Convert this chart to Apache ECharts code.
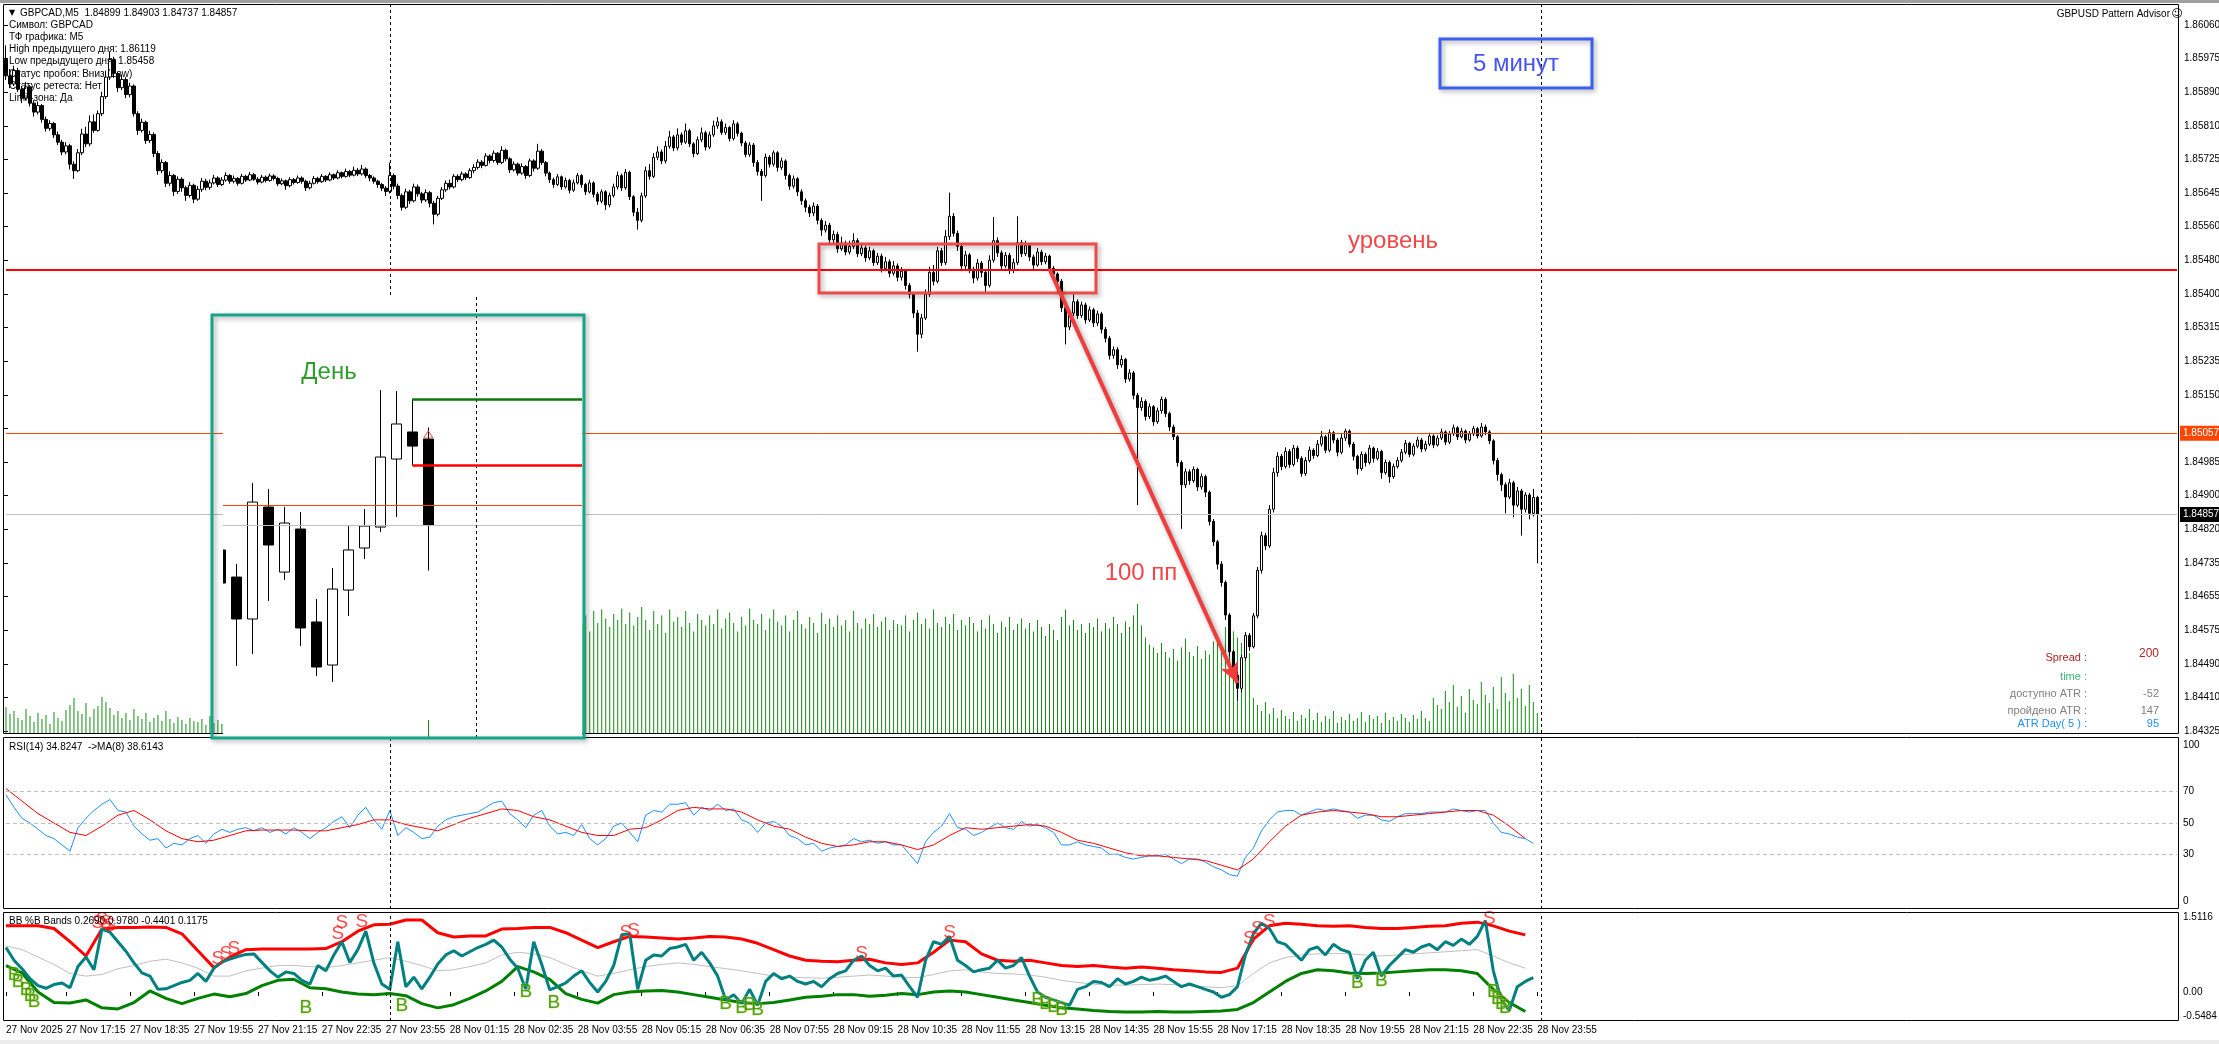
<!DOCTYPE html>
<html><head><meta charset="utf-8">
<script src="https://cdn.jsdelivr.net/npm/echarts@6/dist/echarts.min.js"></script>
<style>html,body{margin:0;padding:0;background:#fff;}#c{width:2219px;height:1044px;}</style>
</head><body><div id="c"></div>
<script>
// ---------- DATA (prices stored as points above 1.84000) ----------
const PRICE_BASE = 1.84;
const openPts = [1975,1935,1915,1948,1902,1880,1908,1868,1846,1862,
1828,1806,1818,1790,1772,1748,1763,1718,1702,1746,
1792,1768,1822,1801,1842,1884,1932,1975,1941,1906,
1926,1889,1910,1842,1801,1821,1776,1791,1744,1702,
1722,1671,1690,1651,1681,1660,1641,1666,1632,1656,
1676,1661,1672,1684,1668,1679,1690,1676,1683,1671,
1688,1679,1692,1681,1674,1686,1678,1689,1683,1670,
1677,1665,1680,1673,1684,1676,1660,1671,1683,1675,
1688,1679,1692,1684,1697,1688,1700,1691,1703,1694,
1706,1690,1684,1676,1668,1659,1651,1690,1664,1641,
1612,1650,1628,1662,1645,1630,1648,1622,1595,1634,
1655,1671,1662,1688,1680,1694,1685,1702,1710,1723,
1715,1738,1727,1745,1722,1752,1731,1704,1718,1696,
1712,1690,1726,1708,1750,1722,1696,1680,1668,1687,
1662,1678,1654,1672,1690,1668,1650,1672,1644,1627,
1650,1618,1641,1662,1690,1660,1698,1638,1600,1580,
1640,1702,1688,1735,1748,1726,1762,1785,1758,1790,
1772,1800,1768,1744,1778,1795,1760,1790,1812,1822,
1796,1808,1781,1817,1794,1770,1742,1765,1722,1700,
1690,1735,1718,1746,1710,1726,1690,1664,1682,1650,
1628,1612,1598,1615,1580,1556,1568,1532,1545,1510,
1524,1502,1516,1530,1498,1512,1488,1505,1476,1492,
1462,1478,1450,1468,1440,1455,1420,1398,1352,1300,
1340,1398,1452,1430,1505,1476,1540,1590,1548,1516,
1468,1495,1460,1438,1475,1452,1420,1482,1530,1500,
1468,1494,1458,1476,1525,1498,1518,1490,1470,1502,
1478,1492,1462,1448,1430,1365,1318,1352,1380,1346,
1372,1335,1360,1328,1350,1312,1290,1248,1262,1225,
1238,1190,1205,1150,1120,1135,1098,1122,1085,1112,
1140,1105,1072,1048,985,930,962,940,968,925,
950,912,840,790,735,690,610,520,462,430,
505,560,532,608,720,805,780,870,960,1000,
975,1012,980,1020,995,958,990,1015,1002,1030,
1048,1015,1058,1040,1010,1045,1062,1030,1000,970,
1005,985,1020,995,1012,960,985,950,975,990,
1010,1032,1005,1025,1040,1018,1030,1050,1028,1045,
1060,1035,1055,1070,1048,1062,1040,1055,1068,1050,
1072,1060,1038,990,955,930,900,935,880,915,
870,905,860,899];
const closePts = [1935,1915,1948,1902,1880,1908,1868,1846,1862,1828,
1806,1818,1790,1772,1748,1763,1718,1702,1746,1792,
1768,1822,1801,1842,1884,1932,1975,1941,1906,1926,
1889,1910,1842,1801,1821,1776,1791,1744,1702,1722,
1671,1690,1651,1681,1660,1641,1666,1632,1656,1676,
1661,1672,1684,1668,1679,1690,1676,1683,1671,1688,
1679,1692,1681,1674,1686,1678,1689,1683,1670,1677,
1665,1680,1673,1684,1676,1660,1671,1683,1675,1688,
1679,1692,1684,1697,1688,1700,1691,1703,1694,1706,
1690,1684,1676,1668,1659,1651,1690,1664,1641,1612,
1650,1628,1662,1645,1630,1648,1622,1595,1634,1655,
1671,1662,1688,1680,1694,1685,1702,1710,1723,1715,
1738,1727,1745,1722,1752,1731,1704,1718,1696,1712,
1690,1726,1708,1750,1722,1696,1680,1668,1687,1662,
1678,1654,1672,1690,1668,1650,1672,1644,1627,1650,
1618,1641,1662,1690,1660,1698,1638,1600,1580,1640,
1702,1688,1735,1748,1726,1762,1785,1758,1790,1772,
1800,1768,1744,1778,1795,1760,1790,1812,1822,1796,
1808,1781,1817,1794,1770,1742,1765,1722,1700,1690,
1735,1718,1746,1710,1726,1690,1664,1682,1650,1628,
1612,1598,1615,1580,1556,1568,1532,1545,1510,1524,
1502,1516,1530,1498,1512,1488,1505,1476,1492,1462,
1478,1450,1468,1440,1455,1420,1398,1352,1300,1340,
1398,1452,1430,1505,1476,1540,1590,1548,1516,1468,
1495,1460,1438,1475,1452,1420,1482,1530,1500,1468,
1494,1458,1476,1525,1498,1518,1490,1470,1502,1478,
1492,1462,1448,1430,1365,1318,1352,1380,1346,1372,
1335,1360,1328,1350,1312,1290,1248,1262,1225,1238,
1190,1205,1150,1120,1135,1098,1122,1085,1112,1140,
1105,1072,1048,985,930,962,940,968,925,950,
912,840,790,735,690,610,520,462,430,505,
560,532,608,720,805,780,870,960,1000,975,
1012,980,1020,995,958,990,1015,1002,1030,1048,
1015,1058,1040,1010,1045,1062,1030,1000,970,1005,
985,1020,995,1012,960,985,950,975,990,1010,
1032,1005,1025,1040,1018,1030,1050,1028,1045,1060,
1035,1055,1070,1048,1062,1040,1055,1068,1050,1072,
1060,1038,990,955,930,900,935,880,915,870,
905,860,899,857];
const highPts = [2010,1952,1960,1955,1910,1920,1912,1875,1872,1866,
1835,1826,1822,1798,1778,1772,1768,1725,1755,1805,
1810,1838,1840,1850,1896,1948,1995,1982,1945,1938,
1932,1918,1914,1848,1830,1825,1800,1796,1750,1730,
1726,1700,1694,1688,1686,1665,1674,1670,1664,1684,
1682,1680,1692,1688,1686,1698,1694,1690,1686,1694,
1692,1699,1696,1686,1692,1690,1695,1693,1687,1683,
1680,1686,1684,1690,1688,1680,1677,1689,1687,1694,
1691,1698,1695,1703,1700,1707,1704,1712,1708,1716,
1710,1694,1688,1680,1672,1664,1722,1695,1670,1646,
1658,1655,1670,1668,1650,1656,1652,1628,1640,1662,
1678,1680,1694,1693,1700,1698,1708,1718,1730,1728,
1745,1742,1752,1748,1762,1756,1735,1725,1722,1720,
1716,1732,1730,1768,1755,1726,1700,1685,1694,1690,
1685,1682,1680,1696,1694,1672,1680,1676,1650,1656,
1654,1648,1670,1700,1695,1706,1702,1642,1610,1648,
1712,1718,1745,1762,1754,1775,1800,1790,1806,1796,
1818,1805,1772,1786,1808,1800,1798,1825,1834,1828,
1818,1812,1826,1822,1798,1775,1772,1770,1728,1706,
1744,1740,1752,1750,1734,1730,1695,1690,1686,1656,
1634,1618,1624,1620,1585,1578,1574,1555,1552,1540,
1530,1530,1548,1536,1522,1518,1515,1510,1500,1498,
1490,1484,1480,1474,1465,1460,1426,1404,1360,1350,
1410,1466,1470,1515,1512,1556,1648,1598,1555,1522,
1505,1500,1466,1485,1480,1458,1494,1588,1538,1506,
1502,1500,1486,1590,1532,1530,1524,1496,1512,1508,
1500,1496,1468,1452,1436,1372,1360,1402,1386,1380,
1378,1368,1365,1358,1355,1318,1296,1270,1268,1248,
1242,1214,1210,1156,1145,1140,1130,1126,1120,1147,
1145,1110,1078,1052,990,970,968,975,972,958,
955,916,846,795,742,695,615,525,470,512,
568,566,615,728,815,812,880,972,1010,1006,
1022,1018,1028,1026,1000,998,1024,1020,1040,1062,
1052,1066,1062,1045,1055,1068,1066,1035,1004,1012,
1010,1028,1024,1020,1016,992,990,982,998,1018,
1040,1036,1032,1048,1045,1038,1058,1054,1052,1068,
1064,1062,1078,1074,1070,1066,1062,1075,1072,1082,
1078,1064,1042,996,960,936,945,940,925,920,
912,910,920,903];
const lowPts = [1925,1905,1910,1895,1868,1875,1860,1835,1840,1820,
1798,1800,1782,1765,1740,1742,1705,1682,1698,1740,
1760,1762,1795,1798,1836,1878,1925,1930,1895,1900,
1880,1882,1835,1790,1796,1768,1770,1735,1692,1696,
1662,1664,1640,1645,1650,1628,1636,1622,1628,1650,
1654,1655,1668,1662,1664,1675,1670,1671,1665,1668,
1674,1676,1677,1668,1671,1673,1675,1678,1664,1666,
1655,1661,1668,1670,1670,1652,1656,1668,1670,1672,
1674,1676,1679,1681,1683,1685,1686,1688,1689,1690,
1684,1676,1670,1660,1652,1640,1646,1656,1632,1604,
1608,1620,1624,1638,1622,1625,1612,1570,1590,1630,
1650,1656,1658,1674,1676,1679,1682,1696,1705,1708,
1712,1720,1722,1716,1718,1725,1696,1700,1690,1692,
1682,1686,1700,1704,1716,1688,1672,1660,1664,1655,
1658,1646,1650,1668,1660,1642,1646,1636,1618,1622,
1605,1612,1636,1656,1652,1655,1630,1590,1557,1575,
1635,1680,1684,1728,1718,1720,1756,1750,1752,1765,
1768,1760,1735,1740,1772,1752,1755,1785,1805,1790,
1790,1774,1776,1786,1762,1735,1736,1712,1690,1628,
1685,1710,1712,1700,1704,1680,1655,1658,1640,1618,
1600,1588,1590,1570,1542,1550,1524,1520,1500,1505,
1494,1496,1510,1490,1492,1478,1482,1468,1470,1452,
1455,1440,1444,1430,1432,1410,1388,1340,1257,1290,
1335,1392,1420,1425,1468,1470,1532,1540,1505,1455,
1460,1450,1425,1432,1440,1400,1415,1476,1490,1460,
1462,1448,1450,1470,1490,1492,1480,1460,1466,1470,
1472,1455,1440,1400,1355,1275,1310,1345,1338,1340,
1326,1330,1318,1320,1302,1280,1238,1240,1215,1218,
1180,1184,1140,880,1112,1088,1092,1075,1080,1105,
1096,1062,1040,975,822,922,930,935,915,918,
900,830,780,722,680,598,508,450,400,420,
498,522,528,602,712,770,775,862,950,966,
970,972,975,986,950,952,985,994,998,1024,
1008,1010,1032,1000,1005,1038,1022,990,955,965,
975,980,985,990,945,955,935,945,970,985,
1005,998,1000,1020,1010,1012,1025,1020,1024,1040,
1028,1030,1050,1040,1044,1032,1036,1050,1044,1046,
1052,1030,980,940,915,860,895,850,875,805,
862,845,852,737];
const volumes = [52,38,44,30,26,48,34,22,40,28,36,18,42,30,24,46,
56,70,44,38,60,32,48,54,72,62,50,36,44,30,40,26,
48,34,28,40,22,30,36,24,44,28,20,32,26,18,30,24,
22,28,16,34,20,26,18,30,24,20,28,22,18,26,20,30,
24,18,28,20,22,30,18,26,24,20,28,22,30,24,26,32,
28,34,26,30,36,28,32,38,30,36,40,34,42,38,44,40,
100,81,90,107,87,99,116,104,96,128,110,133,122,102,131,119,
139,128,151,133,160,145,136,171,157,177,162,183,168,189,174,194,
180,203,186,197,212,191,218,200,209,226,206,218,232,212,223,215,
218,235,203,244,220,247,229,212,238,226,249,218,241,215,232,252,
226,206,244,218,235,200,247,223,232,212,244,220,203,238,226,215,
235,218,247,209,229,241,220,203,232,215,249,226,218,238,206,229,
247,223,215,235,203,226,244,218,209,232,220,200,241,218,229,212,
235,215,226,203,244,220,209,229,218,238,212,223,232,206,226,218,
215,235,203,226,241,218,229,209,247,220,212,232,218,238,206,226,
215,232,220,203,226,209,235,218,200,223,212,232,206,218,229,209,
220,203,226,212,194,218,206,186,232,247,215,226,206,218,200,220,
212,229,203,220,209,232,218,200,223,212,235,258,215,191,177,171,
160,180,162,151,168,145,171,189,162,154,174,148,165,157,183,194,
174,212,186,203,191,180,168,160,70,56,44,62,38,50,30,46,
34,28,42,24,36,30,48,26,40,22,34,28,44,20,32,26,
38,24,30,42,22,36,28,34,20,40,26,32,24,38,30,22,
36,28,44,30,24,70,56,48,84,62,96,52,74,40,88,66,
58,102,76,60,92,48,112,80,64,118,70,88,54,96,62,40];

// RSI(14) sampled every 2 bars, its MA(8) every 4 bars
const RSI_STEP = 2, MA_STEP = 4;
const rsiValues = [68,60,53,50,46,42,40,36,32,47,53,58,62,65,58,57,
48,43,39,40,34,37,36,40,42,37,43,46,44,46,47,45,
47,44,46,43,47,44,40,44,47,51,54,47,55,60,52,46,
58,42,47,44,40,41,48,52,54,55,56,57,60,63,64,56,
52,47,55,58,48,43,44,42,49,40,36,40,48,50,44,38,
55,58,57,62,62,63,55,60,58,62,58,59,52,50,44,50,
51,48,42,40,36,37,32,34,35,36,40,38,39,37,38,36,
36,30,24,38,44,48,56,47,46,42,44,47,50,47,46,51,
48,49,47,44,36,36,38,36,35,34,30,30,28,27,28,29,
29,30,27,24,27,27,25,22,20,17,16,28,34,45,52,57,
58,58,55,57,59,58,59,58,57,53,55,55,52,51,54,56,
56,56,57,57,57,59,58,57,58,58,50,44,43,41,40,37];
const rsiMA = [72,64,56,50,44,42,48,55,58,52,45,40,38,39,42,45,
45.5,45.5,45.5,45,45,47,49,52,52,49,47,45,49,53,56,59,
58,54,52,48,44,42,42,46,47,52,58,60,59,59,57,52,
48,46,41,37,35,36,38,38,36,33,36,42,47,46,47,48,
49,48,44,39,37,34,31,29,29,28,27,26,23,20,27,38,
48,55,57,58,57,56,54,54,55,56,57,58,58,55,48,40];
const rsiLevels = [70, 50, 30];
const rsiTicks = [0, 30, 50, 70, 100];

// BB %B Bands: bands sampled every 4 bars, %B every 2 bars
const BAND_STEP = 4, PB_STEP = 2;
const bbUpper = [1.25,1.25,1.25,1.2,0.95,0.68,1.19,1.22,1.22,1.23,1.22,1.1,0.78,0.46,0.66,0.8,
0.81,0.81,0.81,0.81,0.82,0.95,1.15,1.27,1.28,1.36,1.36,1.12,1.04,1.06,1.06,1.19,
1.2,1.22,1.22,1.12,0.98,0.84,0.95,1.05,1.04,1.02,1.0,1.02,1.05,1.04,1.0,0.92,
0.8,0.68,0.6,0.58,0.57,0.6,0.62,0.55,0.52,0.55,0.75,0.98,0.95,0.72,0.6,0.58,
0.6,0.55,0.5,0.48,0.5,0.47,0.45,0.47,0.45,0.42,0.4,0.38,0.37,0.45,1.0,1.25,
1.3,1.28,1.25,1.24,1.25,1.22,1.2,1.2,1.22,1.24,1.25,1.3,1.32,1.25,1.15,1.08];
const bbLower = [0.5,0.36,0.0,-0.2,-0.21,-0.15,-0.3,-0.32,-0.2,0.02,-0.12,-0.22,-0.12,-0.04,-0.09,-0.03,
0.12,0.22,0.24,0.08,0.06,0.0,-0.04,-0.05,-0.03,-0.07,-0.22,-0.3,-0.24,-0.12,0.02,0.2,
0.48,0.38,0.24,-0.03,-0.14,-0.21,-0.05,0.0,0.02,0.03,0.0,-0.05,-0.1,-0.15,-0.2,-0.22,
-0.2,-0.15,-0.1,-0.08,-0.05,-0.05,-0.08,-0.06,-0.03,-0.05,0.0,0.02,0.0,-0.05,-0.1,-0.15,
-0.2,-0.25,-0.3,-0.32,-0.35,-0.37,-0.38,-0.38,-0.37,-0.38,-0.38,-0.37,-0.36,-0.33,-0.2,0.0,
0.2,0.35,0.42,0.4,0.36,0.35,0.36,0.38,0.4,0.42,0.42,0.4,0.35,0.05,-0.2,-0.37];
const bbMiddle = [0.87,0.8,0.66,0.52,0.35,0.3,0.33,0.44,0.5,0.58,0.62,0.55,0.45,0.3,0.3,0.4,
0.45,0.5,0.5,0.48,0.46,0.5,0.55,0.6,0.65,0.58,0.5,0.4,0.42,0.48,0.55,0.7,
0.75,0.72,0.65,0.52,0.4,0.3,0.35,0.42,0.48,0.52,0.55,0.52,0.48,0.44,0.4,0.35,
0.3,0.28,0.27,0.26,0.28,0.3,0.32,0.3,0.28,0.27,0.33,0.4,0.42,0.38,0.35,0.34,
0.32,0.28,0.22,0.18,0.15,0.13,0.13,0.14,0.15,0.14,0.12,0.1,0.08,0.12,0.35,0.55,
0.65,0.7,0.72,0.73,0.72,0.7,0.68,0.7,0.72,0.74,0.76,0.78,0.8,0.68,0.55,0.45];
const pctB = [0.84,0.60,0.44,0.25,0.12,0.07,0.14,0.17,0.08,0.48,0.66,0.42,1.19,1.13,0.95,0.77,
0.55,0.36,0.30,0.05,0.06,0.12,0.18,0.22,0.35,0.20,0.45,0.57,0.62,0.67,0.71,0.72,
0.56,0.40,0.28,0.38,0.35,0.22,0.15,0.50,0.40,0.70,0.95,0.56,0.80,1.15,0.55,0.15,
0.05,0.95,0.10,0.28,0.06,0.28,0.53,0.70,0.78,0.68,0.76,0.84,0.90,0.98,0.85,0.62,
0.45,0.05,0.95,0.52,0.04,0.10,0.17,0.30,0.40,0.18,0.00,0.20,0.50,1.08,1.10,0.05,
0.6,0.7,0.68,0.82,0.85,0.9,0.6,0.75,0.55,0.30,-0.15,-0.05,-0.22,0.05,-0.25,0.2,
0.35,0.25,0.3,0.2,0.15,0.2,0.1,0.25,0.35,0.4,0.6,0.68,0.5,0.4,0.45,0.3,
0.32,0.1,-0.1,0.6,0.95,0.9,1.05,0.6,0.5,0.38,0.42,0.45,0.6,0.45,0.5,0.65,
0.3,0.0,-0.1,-0.15,-0.2,-0.25,0.05,0.1,0.2,0.18,0.1,0.25,0.15,0.2,0.28,0.22,
0.25,0.3,0.2,0.1,0.15,0.1,0.05,0.0,-0.1,-0.05,0.1,0.7,1.1,1.3,1.2,0.95,
0.9,0.75,0.6,0.8,0.85,0.7,0.9,0.8,0.75,0.25,0.6,0.75,0.3,0.5,0.65,0.8,
0.75,0.85,0.9,0.8,0.95,0.88,1.0,0.9,1.05,1.35,0.4,-0.15,-0.35,0.1,0.2,0.27];
const sellBars = [23,24,25,26,53,55,57,83,84,89,155,157,214,236,311,313,316,371];
const sellVals = [1.3,1.36,1.3,1.25,0.62,0.72,0.82,1.1,1.3,1.32,1.12,1.15,0.72,1.12,1.0,1.2,1.32,1.38];
const buyBars = [2,3,5,6,7,75,99,130,137,180,184,186,188,258,260,262,264,338,344,372,373,374,375];
const buyVals = [0.33,0.2,0.05,-0.08,-0.18,-0.3,-0.26,0.0,-0.2,-0.22,-0.3,-0.25,-0.33,-0.15,-0.22,-0.28,-0.33,0.18,0.22,0.0,-0.12,-0.22,-0.3];
const bbTickVals = [-0.5484, 0, 1.5116];
const bbTickText = ['-0.5484', '0.00', '1.5116'];

// Daily inset ("День")
const dayOpen  = [1.84607,1.84336,1.83916,1.85037,1.84386,1.84817,1.83886,1.83455,1.84206,1.84627,1.84837,1.85518,1.85789,1.85718];
const dayClose = [1.84276,1.83916,1.85087,1.84657,1.84877,1.83826,1.83435,1.84216,1.84607,1.84847,1.85538,1.85869,1.85648,1.84857];
const dayLow   = [1.84276,1.83445,1.83565,1.84096,1.84306,1.83645,1.83345,1.83285,1.83946,1.84517,1.84787,1.84937,1.85458,1.84400];
const dayHigh  = [1.84607,1.84467,1.85278,1.85218,1.85037,1.84987,1.84116,1.84426,1.84847,1.85017,1.86209,1.86199,1.86119,1.85834];

const prevDayHigh = 1.86119, prevDayLow = 1.85458;
const orangeLine = 1.85057, bidLine = 1.84857;

// Axis tick labels
const priceTicks = ['1.84325','1.84410','1.84490','1.84575','1.84655','1.84735','1.84820','1.84900','1.84985','',
'1.85150','1.85235','1.85315','1.85400','1.85480','1.85560','1.85645','1.85725','1.85810','1.85890','1.85975','1.86060'];
const timeTickBars = [0,15,31,47,63,79,95,111,127,143,159,175,191,207,223,239,255,271,287,303,319,335,351,367,383];
const timeLabels = ['27 Nov 2025','27 Nov 17:15','27 Nov 18:35','27 Nov 19:55','27 Nov 21:15','27 Nov 22:35','27 Nov 23:55',
'28 Nov 01:15','28 Nov 02:35','28 Nov 03:55','28 Nov 05:15','28 Nov 06:35','28 Nov 07:55','28 Nov 09:15','28 Nov 10:35',
'28 Nov 11:55','28 Nov 13:15','28 Nov 14:35','28 Nov 15:55','28 Nov 17:15','28 Nov 18:35','28 Nov 19:55','28 Nov 21:15',
'28 Nov 22:35','28 Nov 23:55'];
const daySeparators = [96, 384];

const infoLines = ['Символ: GBPCAD','ТФ графика: M5','High предыдущего дня: 1.86119','Low предыдущего дня: 1.85458',
'Статус пробоя: Вниз (Low)','Статус ретеста: Нет','Limit-зона: Да'];
const panelLabels = ['Spread :','time :','доступно ATR :','пройдено ATR :','ATR Day( 5 ) :'];
const panelValues = ['200','','-52','147','95'];

// ---------- BUILD ----------
const FONT = 'Liberation Sans';
const N_CAT = 544;
const LAST_CAT = N_CAT - 1;
const cats = Array.from({length: N_CAT}, (_, i) => String(i));
const px = v => +(PRICE_BASE + v / 1e5).toFixed(5);
const candleData = closePts.map((c, i) => [px(openPts[i]), px(c), px(lowPts[i]), px(highPts[i])]);
const dayData = dayOpen.map((o, k) => [k, o, dayClose[k], dayLow[k], dayHigh[k]]);
const stepPairs = (arr, step) => arr.map((v, k) => [k * step, v]);
const isTimeTick = i => timeTickBars.indexOf(i) >= 0;
const sepLines = daySeparators.map(b => ({xAxis: b, lineStyle: {color: '#000', width: 1, type: [3, 3]}}));
const hLine = (v, x0, x1, style, label) => [Object.assign({coord: [x0, v], lineStyle: style}, label ? {label} : {}), {coord: [x1, v]}];
const tag = (v, bg) => ({show: true, position: 'end', distance: 3, formatter: v.toFixed(5), backgroundColor: bg,
  color: '#fff', padding: [3, 3, 2, 3], fontSize: 10, fontFamily: FONT});
const INSET_X0 = 0.169, INSET_X1 = 22.606;

const panelColors = ['#b22222','#3cb371','#808080','#808080','#1e90ff'];
const panelY = [658, 677, 694, 711, 724];
const valueY = [654, 677, 694, 711, 724];

const shadow = {shadowBlur: 5, shadowColor: 'rgba(0,0,0,0.35)', shadowOffsetX: 2, shadowOffsetY: 2};
const tshadow = {shadowBlur: 4, shadowColor: 'rgba(0,0,0,0.3)', shadowOffsetX: 2, shadowOffsetY: 2};
const txt = (text, x, y, size, fill, align, extra, family) => ({
  type: 'text', z: 30, silent: true,
  style: Object.assign({text, x, y, font: size + 'px "' + (family || FONT) + '"', fill, align: align || 'left', verticalAlign: 'middle'}, extra || {})
});

const graphics = [
  {type: 'rect', z: 15, silent: true, shape: {x: 0, y: 0, width: 2219, height: 3}, style: {fill: '#a0a0a0'}},
  {type: 'rect', z: 15, silent: true, shape: {x: 0, y: 1040, width: 2219, height: 4}, style: {fill: '#ececec'}},
  {type: 'rect', z: 15, silent: true, shape: {x: 3.5, y: 4.5, width: 2175, height: 729}, style: {fill: 'none', stroke: '#000', lineWidth: 1}},
  {type: 'rect', z: 15, silent: true, shape: {x: 3.5, y: 737.5, width: 2175, height: 171}, style: {fill: 'none', stroke: '#000', lineWidth: 1}},
  {type: 'rect', z: 15, silent: true, shape: {x: 3.5, y: 912.5, width: 2175, height: 108}, style: {fill: 'none', stroke: '#000', lineWidth: 1}},
  // inset background, edge mask (clips the partial first daily candle) and frame
  {type: 'rect', z: 20, silent: true, shape: {x: 223, y: 297, width: 359, height: 441}, style: {fill: '#fff'}},
  {type: 'rect', z: 28, silent: true, shape: {x: 214, y: 540, width: 9, height: 50}, style: {fill: '#fff'}},
  {type: 'rect', z: 30, silent: true, shape: {x: 212, y: 315, width: 372, height: 423},
    style: Object.assign({fill: 'none', stroke: '#17a589', lineWidth: 3}, shadow)},
  // red box + blue box
  {type: 'rect', z: 30, silent: true, shape: {x: 819, y: 244, width: 277, height: 49},
    style: Object.assign({fill: 'none', stroke: '#ef4a4a', lineWidth: 3}, shadow)},
  {type: 'rect', z: 30, silent: true, shape: {x: 1440, y: 39, width: 152, height: 49},
    style: Object.assign({fill: 'none', stroke: '#3d5ff0', lineWidth: 3}, shadow)},
  txt('уровень', 1393, 241, 24, '#f04848', 'center', tshadow),
  txt('100 пп', 1141, 573, 24, '#f04848', 'center', tshadow),
  txt('5 минут', 1516, 64, 24, '#4456ee', 'center', tshadow),
  Object.assign(txt('День', 329, 372, 24, '#2e9d2e', 'center', tshadow), {z: 31}),
  // header texts
  txt('▼', 9, 13, 8, '#000', 'left', null, 'DejaVu Sans'),
  txt('GBPCAD,M5  1.84899 1.84903 1.84737 1.84857', 20, 13, 10, '#000'),
  txt('GBPUSD Pattern Advisor', 2170, 14, 10, '#000', 'right'),
  txt('☺', 2177, 14, 11, '#000', 'center', null, 'DejaVu Sans'),
  txt('RSI(14) 34.8247  ->MA(8) 38.6143', 9, 747, 10, '#000'),
  txt('BB %B Bands 0.2690 0.9780 -0.4401 0.1175', 9, 921, 10, '#000')
];
infoLines.forEach((t, k) => graphics.push(txt(t, 9, 25 + k * 12.2, 10, '#000')));
panelLabels.forEach((t, k) => graphics.push(txt(t, 2087, panelY[k], 11, panelColors[k], 'right')));
panelValues.forEach((t, k) => { if (t) graphics.push(txt(t, 2159, valueY[k], k === 0 ? 12 : 11, panelColors[k], 'right')); });

const axisFont = {fontFamily: FONT, fontSize: 10, color: '#000'};
const noGridBounds = {containLabel: false, outerBoundsMode: 'none'};

const option = {
  animation: false,
  backgroundColor: '#ffffff',
  textStyle: {fontFamily: FONT},
  grid: [
    Object.assign({left: 4, top: 4, width: 2175, height: 729}, noGridBounds),
    Object.assign({left: 4, top: 25, width: 2175, height: 706}, noGridBounds),
    Object.assign({left: 4, top: 737, width: 2175, height: 172}, noGridBounds),
    Object.assign({left: 4, top: 912, width: 2175, height: 109}, noGridBounds),
    Object.assign({left: 223, top: 297, width: 359, height: 441}, noGridBounds)
  ],
  xAxis: [
    {type: 'category', gridIndex: 0, data: cats, boundaryGap: true, show: false},
    {type: 'value', gridIndex: 1, min: 0, max: 1, show: false},
    {type: 'category', gridIndex: 2, data: cats, boundaryGap: true, show: false},
    {type: 'category', gridIndex: 3, data: cats, boundaryGap: true,
      axisLine: {show: false},
      axisTick: {show: true, length: 4, alignWithLabel: true, interval: i => isTimeTick(i), lineStyle: {color: '#000'}},
      axisLabel: Object.assign({show: true, interval: i => isTimeTick(i), align: 'left', margin: 4,
        formatter: (v, i) => { const k = timeTickBars.indexOf(i); return k >= 0 ? timeLabels[k] : ''; }}, axisFont),
      splitLine: {show: false}},
    {type: 'value', gridIndex: 4, min: INSET_X0, max: INSET_X1, show: false}
  ],
  yAxis: [
    {type: 'value', gridIndex: 0, min: 1.843201, max: 1.861116, show: false},
    {type: 'value', gridIndex: 0, min: 0, max: 1458, show: false},
    {type: 'value', gridIndex: 1, position: 'right', min: 0, max: 21, interval: 1,
      axisLine: {show: false}, splitLine: {show: false},
      axisTick: {show: true, length: 4, lineStyle: {color: '#000'}},
      axisLabel: Object.assign({margin: 5, align: 'left', formatter: v => { const k = Math.round(v); return Math.abs(v - k) < 1e-6 ? (priceTicks[k] || '') : ''; }}, axisFont)},
    {type: 'value', gridIndex: 2, position: 'right', min: -5, max: 105, interval: 5,
      axisLine: {show: false}, splitLine: {show: false}, axisTick: {show: false},
      axisLabel: Object.assign({margin: 4, align: 'left', formatter: v => rsiTicks.some(t => Math.abs(t - v) < 1e-6) ? String(Math.round(v)) : ''}, axisFont)},
    {type: 'value', gridIndex: 3, position: 'right', min: -0.5484, max: 1.5116, interval: 0.5484,
      axisLine: {show: false}, splitLine: {show: false}, axisTick: {show: false},
      axisLabel: Object.assign({margin: 4, align: 'left', verticalAlignMaxLabel: 'top', verticalAlignMinLabel: 'bottom',
        formatter: v => { const k = bbTickVals.findIndex(t => Math.abs(t - v) < 1e-4); return k >= 0 ? bbTickText[k] : ''; }}, axisFont)},
    {type: 'value', gridIndex: 4, min: 1.82724, max: 1.87141, show: false}
  ],
  graphic: {elements: graphics},
  series: [
    {type: 'bar', name: 'Volume', xAxisIndex: 0, yAxisIndex: 1, data: volumes, barWidth: 1,
      itemStyle: {color: '#128c12'}, silent: true, emphasis: {disabled: true}},
    {type: 'candlestick', name: 'GBPCAD,M5', xAxisIndex: 0, yAxisIndex: 0, data: candleData, barWidth: 3,
      silent: true, emphasis: {disabled: true},
      itemStyle: {color: '#ffffff', color0: '#000000', borderColor: '#000000', borderColor0: '#000000', borderWidth: 1},
      markLine: {silent: true, symbol: ['none', 'none'], animation: false, label: {show: false}, data: sepLines}},
    {type: 'line', name: 'levels', xAxisIndex: 0, yAxisIndex: 0, data: [], silent: true,
      markLine: {z: 5, silent: true, animation: false, symbol: ['none', 'none'], label: {show: false},
        data: [
          hLine(prevDayLow, 0, LAST_CAT, {color: '#ff0000', width: 2, type: 'solid'}),
          hLine(orangeLine, 0, LAST_CAT, {color: '#ff4500', width: 1, type: 'solid'}, tag(orangeLine, '#ff4500')),
          hLine(bidLine, 0, LAST_CAT, {color: '#c0c0c0', width: 1, type: 'solid'}, tag(bidLine, '#000000'))
        ]}},
    {type: 'line', name: 'arrow', xAxisIndex: 0, yAxisIndex: 0, data: [], z: 30, silent: true,
      markLine: {z: 30, silent: true, animation: false, symbol: ['none', 'arrow'], symbolSize: [14, 20], label: {show: false},
        lineStyle: Object.assign({color: '#f03c3c', width: 4, type: 'solid'}, shadow),
        data: [[{coord: [261, 1.85460]}, {coord: [308, 1.84443]}]]}},
    // RSI pane
    {type: 'line', name: 'RSI(14)', xAxisIndex: 2, yAxisIndex: 3, data: stepPairs(rsiValues, RSI_STEP), symbol: 'none',
      lineStyle: {color: '#1e90ff', width: 1}, silent: true,
      markLine: {silent: true, symbol: ['none', 'none'], animation: false, label: {show: false},
        data: rsiLevels.map(l => hLine(l, 0, LAST_CAT, {color: '#c0c0c0', width: 1, type: [4, 3]})).concat(sepLines)}},
    {type: 'line', name: 'MA(8)', xAxisIndex: 2, yAxisIndex: 3, data: stepPairs(rsiMA, MA_STEP), symbol: 'none',
      lineStyle: {color: '#ff0000', width: 1}, silent: true},
    // BB %B pane
    {type: 'line', name: 'Middle', xAxisIndex: 3, yAxisIndex: 4, data: stepPairs(bbMiddle, BAND_STEP), symbol: 'none',
      lineStyle: {color: '#c0c0c0', width: 1}, silent: true,
      markLine: {silent: true, symbol: ['none', 'none'], animation: false, label: {show: false}, data: sepLines}},
    {type: 'line', name: 'Upper', xAxisIndex: 3, yAxisIndex: 4, data: stepPairs(bbUpper, BAND_STEP), symbol: 'none',
      lineStyle: {color: '#ff0000', width: 3}, silent: true},
    {type: 'line', name: 'Lower', xAxisIndex: 3, yAxisIndex: 4, data: stepPairs(bbLower, BAND_STEP), symbol: 'none',
      lineStyle: {color: '#008000', width: 3}, silent: true},
    {type: 'line', name: '%B', xAxisIndex: 3, yAxisIndex: 4, data: stepPairs(pctB, PB_STEP), symbol: 'none',
      lineStyle: {color: '#008080', width: 3}, silent: true},
    {type: 'scatter', name: 'Sell', xAxisIndex: 3, yAxisIndex: 4, data: sellBars.map((b, k) => [b, sellVals[k]]),
      symbolSize: 1, itemStyle: {color: 'rgba(0,0,0,0)'}, silent: true, z: 6,
      label: {show: true, position: 'inside', formatter: 'S', color: '#ff1a1a', fontSize: 19, fontFamily: FONT}},
    {type: 'scatter', name: 'Buy', xAxisIndex: 3, yAxisIndex: 4, data: buyBars.map((b, k) => [b, buyVals[k]]),
      symbolSize: 1, itemStyle: {color: 'rgba(0,0,0,0)'}, silent: true, z: 6,
      label: {show: true, position: 'inside', formatter: 'B', color: '#1e8c1e', fontSize: 19, fontFamily: FONT,
        textBorderColor: 'rgba(225,225,0,0.7)', textBorderWidth: 1}},
    // Daily inset
    {type: 'candlestick', name: 'Day', xAxisIndex: 4, yAxisIndex: 5, data: dayData, barWidth: 11, z: 25, silent: true,
      emphasis: {disabled: true}, clip: true,
      itemStyle: {color: '#ffffff', color0: '#000000', borderColor: '#000000', borderColor0: '#000000', borderWidth: 1},
      markLine: {z: 26, silent: true, animation: false, symbol: ['none', 'none'], label: {show: false},
        data: [
          hLine(orangeLine, INSET_X0, INSET_X1, {color: '#ff4500', width: 1, type: 'solid'}),
          hLine(bidLine, INSET_X0, INSET_X1, {color: '#c0c0c0', width: 1, type: 'solid'}),
          {xAxis: 16, lineStyle: {color: '#000', width: 1, type: [3, 3]}},
          hLine(prevDayHigh, 12, INSET_X1, {color: '#0a7a0a', width: 2.5, type: 'solid'}),
          hLine(prevDayLow, 12, INSET_X1, {color: '#ff0000', width: 2.5, type: 'solid'}),
          [{coord: [13, 1.82904], lineStyle: {color: '#128c12', width: 1, type: 'solid'}}, {coord: [13, 1.82724]}]
        ]}},
    {type: 'scatter', name: 'DayMark', xAxisIndex: 4, yAxisIndex: 5, data: [[13, 1.85765]], z: 27, silent: true,
      symbol: 'triangle', symbolSize: [9, 7], itemStyle: {color: 'rgba(255,255,255,0)', borderColor: '#ff3030', borderWidth: 1}}
  ]
};

const chart = echarts.init(document.getElementById('c'), null, {renderer: 'canvas', width: 2219, height: 1044});
chart.setOption(option);
</script>
</body></html>
